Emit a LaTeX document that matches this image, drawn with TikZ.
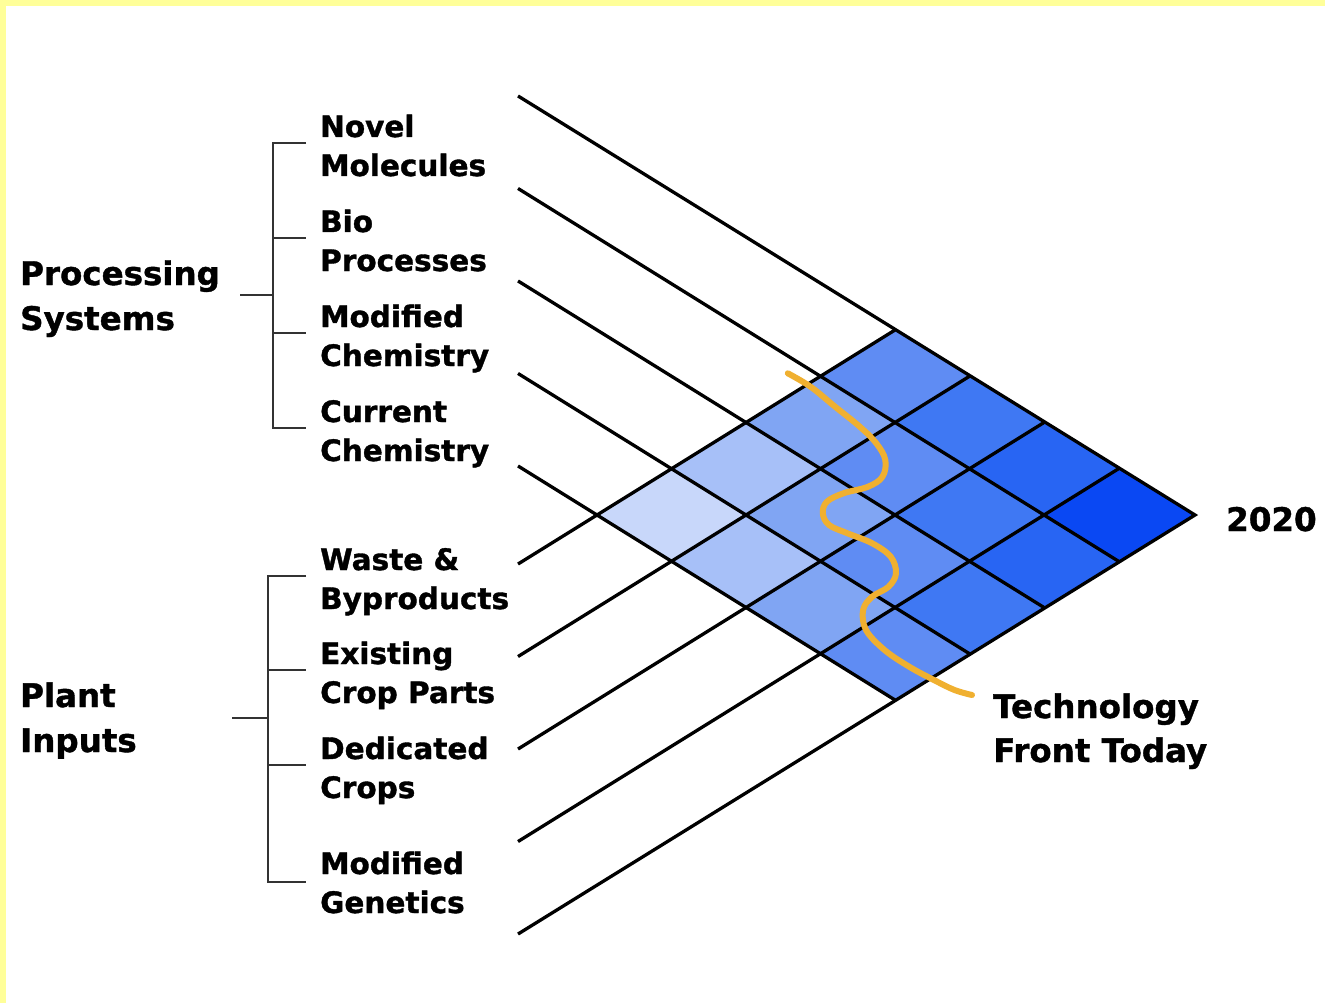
\documentclass[tikz,border=0pt]{standalone}
\usepackage{fontspec}
\setmainfont{DejaVu Sans}[BoldFeatures={FakeBold=1.2}]
\definecolor{bordery}{HTML}{FFFF99}
\definecolor{cell0}{HTML}{C8D7FA}
\definecolor{cell1}{HTML}{A7C0F8}
\definecolor{cell2}{HTML}{80A5F3}
\definecolor{cell3}{HTML}{5F8CF3}
\definecolor{cell4}{HTML}{3F78F3}
\definecolor{cell5}{HTML}{2865F3}
\definecolor{cell6}{HTML}{0A48F3}
\definecolor{frontcol}{HTML}{F0B030}
\begin{document}
\begin{tikzpicture}[x=1pt,y=-1pt,
  item/.style={font=\bfseries\fontsize{29.5}{36}\selectfont, anchor=base west, inner sep=0pt, text=black},
  head/.style={font=\bfseries\fontsize{32.5}{40}\selectfont, anchor=base west, inner sep=0pt, text=black},
  gridline/.style={line width=3.3pt, black},
  brack/.style={line width=1.6pt, black!80},
  front/.style={line width=6pt, draw=frontcol, line cap=round, line join=round}]
\useasboundingbox (0,0) rectangle (1325,1003);
\fill[white] (0,0) rectangle (1325,1003);
\fill[bordery] (0,0) rectangle (1325,6);
\fill[bordery] (0,0) rectangle (6,1003);
% cells
\foreach \p in {0,...,3}{\foreach \q in {0,...,3}{
  \pgfmathtruncatemacro\s{\p+\q}
  \pgfmathsetmacro\cx{597+74.5*(\p+\q)}
  \pgfmathsetmacro\cy{515+46.25*(\p-\q)}
  \fill[fill=cell\s] (\cx,\cy) -- ++(74.5,46.25) -- ++(74.5,-46.25) -- ++(-74.5,-46.25) -- cycle;
}}
% grid lines
\foreach \j in {0,...,3}{
  \pgfmathsetmacro\ya{465.96-92.5*\j}
  \pgfmathsetmacro\ex{597+74.5*(\j+4)}
  \pgfmathsetmacro\ey{515+46.25*(4-\j)}
  \draw[gridline] (518,\ya) -- (\ex,\ey);
}
\foreach \k in {0,...,3}{
  \pgfmathsetmacro\ya{564.04+92.5*\k}
  \pgfmathsetmacro\ex{597+74.5*(\k+4)}
  \pgfmathsetmacro\ey{515+46.25*(\k-4)}
  \draw[gridline] (518,\ya) -- (\ex,\ey);
}
\coordinate (tip) at (1195,515);
\draw[gridline, line join=miter] (518,95.96) -- (tip) -- (518,934.04);
% technology front
\draw[front] plot[smooth, tension=0.6] coordinates {
 (787.8,373.3) (810.5,386.7) (835.1,406.7) (859.8,426.7) (876.3,443.3) (885.3,460)
 (882.5,476.7) (868.1,486.7) (843.4,493.3) (826.9,501.7) (822.8,513.3) (829,525)
 (847.5,533.3) (872.2,543.3) (890.7,556.7) (896,573.3) (888.6,586.7) (872.2,596.7)
 (863.1,610) (866,630) (884.5,650) (909.2,666.7) (933.9,680) (954.5,690) (972,695)};
% brackets
\draw[brack] (306,143) -- (273,143) -- (273,428) -- (306,428);
\draw[brack] (273,238) -- (306,238);
\draw[brack] (273,333) -- (306,333);
\draw[brack] (240,295) -- (273,295);
\draw[brack] (306,576) -- (268,576) -- (268,882) -- (306,882);
\draw[brack] (268,670) -- (306,670);
\draw[brack] (268,765) -- (306,765);
\draw[brack] (232,718) -- (268,718);
% headings
\node[head] (ps1) at (20,285) {Processing};
\node[head] (ps2) at (20,330) {Systems};
\node[head] (pi1) at (20,707) {Plant};
\node[head] (pi2) at (20,752) {Inputs};
\node[head] (yr) at (1226,531) {2020};
\node[head] (tf1) at (993,718) {Technology};
\node[head] (tf2) at (993,762) {Front Today};
% items
\node[item] (a1) at (320,137) {Novel};
\node[item] (a2) at (320,176) {Molecules};
\node[item] (b1) at (320,232) {Bio};
\node[item] (b2) at (320,271) {Processes};
\node[item] (c1) at (320,327) {Modified};
\node[item] (c2) at (320,366) {Chemistry};
\node[item] (d1) at (320,422) {Current};
\node[item] (d2) at (320,461) {Chemistry};
\node[item] (e1) at (320,570) {Waste \&};
\node[item] (e2) at (320,609) {Byproducts};
\node[item] (f1) at (320,664) {Existing};
\node[item] (f2) at (320,703) {Crop Parts};
\node[item] (g1) at (320,759) {Dedicated};
\node[item] (g2) at (320,798) {Crops};
\node[item] (h1) at (320,874) {Modified};
\node[item] (h2) at (320,913) {Genetics};
\end{tikzpicture}
\end{document}
